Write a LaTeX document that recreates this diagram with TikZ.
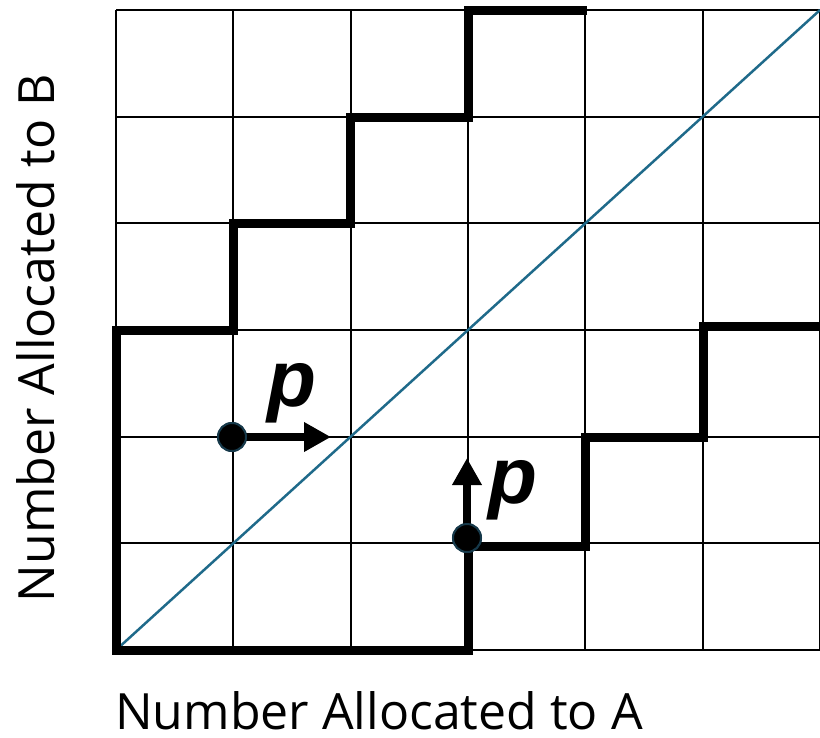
\documentclass[tikz,border=0pt]{standalone}
\usepackage{fontspec}
\setmainfont{Open Sans}
\newfontfamily\pfont{Liberation Sans}
\usetikzlibrary{arrows.meta}
\definecolor{diag}{HTML}{1F6A8A}
\definecolor{dotedge}{HTML}{16394A}
\tikzset{
  gridline/.style={line width=2pt, black},
  thickpath/.style={line width=9pt, black, line join=miter},
  dotnode/.style={circle, fill=black, draw=dotedge, line width=2pt, minimum size=28pt, inner sep=0pt},
  parrow/.style={line width=8.5pt, -{Triangle[length=27pt,width=28pt]}},
  plabel/.style={font=\pfont\bfseries\itshape\fontsize{80}{80}\selectfont, inner sep=0pt},
  axislabel/.style={font=\fontsize{50}{50}\selectfont, inner sep=0pt}
}
\begin{document}
\begin{tikzpicture}[x=1pt,y=-1pt]
\useasboundingbox (0,0) rectangle (820,737);
\fill[white] (0,0) rectangle (820,737);
% grid
\foreach \i in {0,...,6} {
  \draw[gridline] ({116+\i*117.33},10) -- ({116+\i*117.33},650);
  \draw[gridline] (116,{10+\i*106.67}) -- (820,{10+\i*106.67});
}
% diagonal
\draw[diag, line width=2.5pt] (116,650) -- (820,10);
% thick staircase paths
\draw[thickpath] (587,10) -- (468,10) -- (468,117) -- (350,117) -- (350,223) -- (233,223) -- (233,330) -- (116,330) -- (116,650) -- (468,650) -- (468,546) -- (585,546) -- (585,437) -- (703,437) -- (703,326) -- (822,326);
% arrows and dots
\coordinate (t1) at (331,437);
\coordinate (t2) at (467,458);
\node[dotnode] (d1) at (232,437) {};
\node[dotnode] (d2) at (467,538) {};
\draw[parrow] (d1.center) -- (t1);
\draw[parrow] (d2.center) -- (t2);
\node[dotnode] at (d1) {};
\node[dotnode] at (d2) {};
\node[plabel] (p1) at (292,393) {p};
\node[plabel] (p2) at (513,490) {p};
% axis labels
\node[axislabel, anchor=base] (xl) at (379,729) {Number Allocated to A};
\node[axislabel, anchor=base, rotate=90] (yl) at (54,338) {Number Allocated to B};
\end{tikzpicture}
\end{document}
